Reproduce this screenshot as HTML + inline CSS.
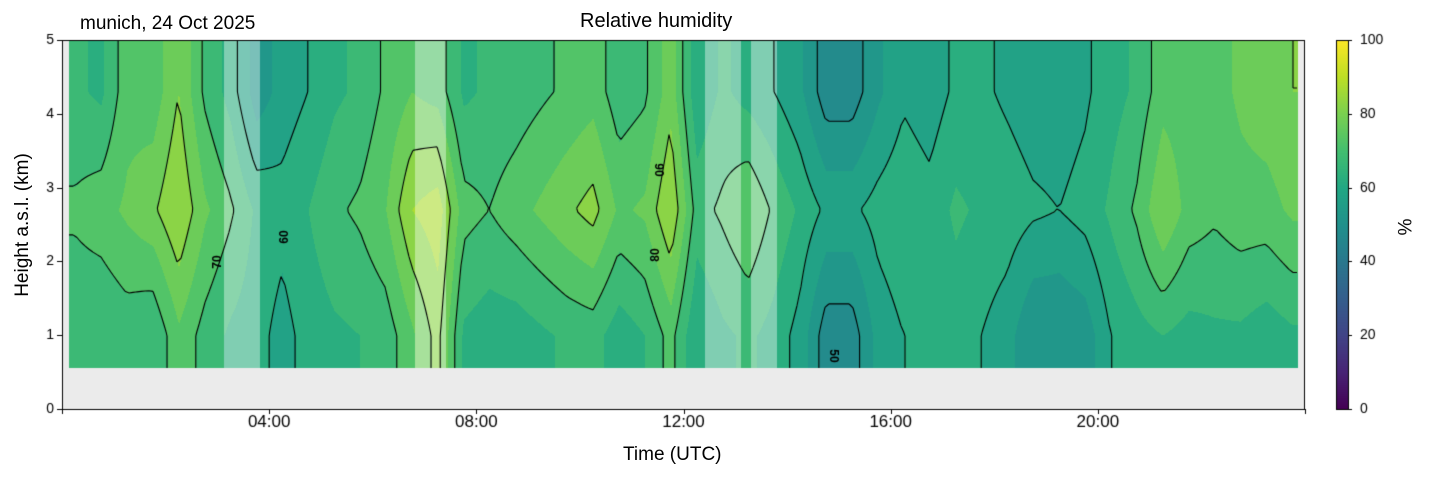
<!DOCTYPE html>
<html><head><meta charset="utf-8"><style>
body{margin:0;background:#fff;width:1429px;height:478px;overflow:hidden;font-family:"Liberation Sans","DejaVu Sans",sans-serif}
#wrap{position:relative;width:1429px;height:478px}
canvas{position:absolute;left:0;top:0}
.t{position:absolute;color:#000;white-space:nowrap}
</style></head><body>
<div id="wrap">
<canvas id="cv" width="1429" height="478"></canvas>
<div class="t" style="left:80px;top:13px;font-size:19px">munich, 24 Oct 2025</div>
<div class="t" style="left:580px;top:10px;font-size:20px">Relative humidity</div>
<div class="t" style="left:623px;top:444px;font-size:19px">Time (UTC)</div>
<div class="t" style="left:-62px;top:214px;font-size:19px;transform:rotate(-90deg);width:170px;text-align:center">Height a.s.l. (km)</div>
<div class="t" style="left:1398px;top:216px;font-size:19px;transform:rotate(-90deg)">%</div>
</div>
<script>
// half-hour columns, values in % RH
const hours=[];for(let i=0;i<48;i++)hours.push(i*0.5+0.25);
const lowRH=[66,65,67,65,74,68,64,62,58,62,64,65,67,74,82,64,62,62,64,66,67,62,65,72,60,64,66,63,58,47,47,57,60,60,62,60,57,50,50,52,60,63,65,63,64,64,62,64];
const midRH=[71,73,76,79,85,76,71,64,62,65,69,71,75,85,88,72,70,73,76,79,82,74,76,85,68,71,75,69,64,59,59,62,64,62,66,64,63,61,60,62,66,71,80,73,71,73,73,76];
const highRH=[66,64,73,72,80,69,63,52,57,60,64,66,71,75,73,64,66,67,69,71,73,67,69,78,61,66,63,60,56,47,47,54,59,57,61,61,59,57,57,59,63,66,73,72,73,76,78,80];
const rowHeights=[1.0,2.7,4.3];
const gapIntervals=[[3.12,3.82],[6.8,7.4],[12.4,13.1],[13.3,13.8]];
const xTicks=[4,8,12,16,20], xTickLabels=['04:00','08:00','12:00','16:00','20:00'];
const yTicks=[0,1,2,3,4,5];
const cbTicks=[0,20,40,60,80,100];
const contourLevels=[50,60,70,80,90];

const X0=62,X1=1305,Y0=409,Y1=40;
const xs=h=>X0+h/24*(X1-X0);
const ys=k=>Y0-k/5*(Y0-Y1);
const stops=[[68,1,84],[72,36,117],[65,68,135],[53,95,141],[42,120,142],[33,145,140],[34,168,132],[68,191,112],[122,209,81],[189,223,38],[253,231,37]];
function vir(v){v=Math.max(0,Math.min(1,v))*10;const i=Math.min(9,Math.floor(v)),f=v-i;const a=stops[i],b=stops[i+1];return [a[0]+(b[0]-a[0])*f,a[1]+(b[1]-a[1])*f,a[2]+(b[2]-a[2])*f];}
function colAt(arr,h){if(h<=hours[0])return arr[0];if(h>=hours[47])return arr[47];const i=Math.floor((h-0.25)/0.5),f=(h-hours[i])/0.5;return arr[i]+(arr[i+1]-arr[i])*f;}
function val(h,k){const a=colAt(lowRH,h),b=colAt(midRH,h),c=colAt(highRH,h);
 if(k<=rowHeights[0])return a;if(k<=rowHeights[1]){const f=(k-rowHeights[0])/(rowHeights[1]-rowHeights[0]);return a+(b-a)*f;}
 if(k<=rowHeights[2]){const f=(k-rowHeights[1])/(rowHeights[2]-rowHeights[1]);return b+(c-b)*f;}return c;}
const cv=document.getElementById('cv'),ctx=cv.getContext('2d');
ctx.fillStyle='#ebebeb';ctx.fillRect(X0,Y1,X1-X0,Y0-Y1);
const hs=0.13,he=23.87,ks=0.55,ke=5;
const px0=Math.round(xs(hs)),px1=Math.round(xs(he)),py0=Math.round(ys(ke)),py1=Math.round(ys(ks));
const img=ctx.getImageData(px0,py0,px1-px0,py1-py0);
for(let y=0;y<py1-py0;y++){const k=5-(y+py0-Y1)/(Y0-Y1)*5;for(let x=0;x<px1-px0;x++){const h=(x+px0-X0)/(X1-X0)*24;
 let v=val(h,k);v=Math.floor(v/5)*5+2.5;let c=vir(v/100);
 for(const g of gapIntervals){if(h>=g[0]&&h<=g[1]){c=[c[0]*0.6+255*0.4,c[1]*0.6+255*0.4,c[2]*0.6+255*0.4];}}
 const o=(y*(px1-px0)+x)*4;img.data[o]=c[0];img.data[o+1]=c[1];img.data[o+2]=c[2];img.data[o+3]=255;}}
ctx.putImageData(img,px0,py0);
ctx.strokeStyle='#000';ctx.lineWidth=1.1;
const st=4,nx=Math.floor((px1-px0)/st),ny=Math.floor((py1-py0)/st);
const G=[];for(let j=0;j<=ny;j++){G.push([]);const k=5-(py0+j*st-Y1)/(Y0-Y1)*5;for(let i=0;i<=nx;i++){G[j].push(val((px0+i*st-X0)/(X1-X0)*24,k));}}
for(const L of contourLevels){ctx.beginPath();
 for(let j=0;j<ny;j++)for(let i=0;i<nx;i++){const a=G[j][i],b=G[j][i+1],c=G[j+1][i+1],d=G[j+1][i];const pts=[];
  const e=(v1,v2,x1,y1,x2,y2)=>{if((v1<L)!==(v2<L)){const t=(L-v1)/(v2-v1);pts.push([x1+(x2-x1)*t,y1+(y2-y1)*t]);}};
  const X=px0+i*st,Y=py0+j*st;e(a,b,X,Y,X+st,Y);e(b,c,X+st,Y,X+st,Y+st);e(c,d,X+st,Y+st,X,Y+st);e(d,a,X,Y+st,X,Y);
  for(let p=0;p+1<pts.length;p+=2){ctx.moveTo(pts[p][0],pts[p][1]);ctx.lineTo(pts[p+1][0],pts[p+1][1]);}}
 ctx.stroke();}
ctx.strokeStyle='#000';ctx.lineWidth=1;ctx.strokeRect(X0+0.5,Y1+0.5,X1-X0-1,Y0-Y1);
ctx.fillStyle='#000';ctx.textAlign='center';ctx.textBaseline='top';
[0,...xTicks,24].forEach(h=>{const x=Math.round(xs(h))+0.5;ctx.beginPath();ctx.moveTo(x,Y0);ctx.lineTo(x,Y0+5);ctx.stroke();});
ctx.font='17px "Liberation Sans",sans-serif';
xTicks.forEach((h,i)=>ctx.fillText(xTickLabels[i],xs(h),414));
ctx.font='14px "Liberation Sans",sans-serif';ctx.textAlign='right';ctx.textBaseline='middle';
yTicks.forEach(k=>{const y=Math.round(ys(k))+0.5;ctx.beginPath();ctx.moveTo(X0-5,y);ctx.lineTo(X0,y);ctx.stroke();ctx.fillText(String(k),X0-8,y);});
const CX=1336,CW=12;for(let y=Y1;y<Y0;y++){const c=vir((Y0-y)/(Y0-Y1));ctx.fillStyle=`rgb(${c[0]|0},${c[1]|0},${c[2]|0})`;ctx.fillRect(CX,y,CW,1);}
ctx.strokeRect(CX+0.5,Y1+0.5,CW,Y0-Y1);ctx.fillStyle='#000';ctx.textAlign='left';
cbTicks.forEach(v=>{const y=Math.round(Y0-v/100*(Y0-Y1))+0.5;ctx.beginPath();ctx.moveTo(CX+CW,y);ctx.lineTo(CX+CW+4,y);ctx.stroke();ctx.fillText(String(v),CX+CW+12,y);});
ctx.font='bold 12px "Liberation Sans",sans-serif';
[[218,262,'70'],[285,237,'60'],[658,170,'90'],[656,255,'80'],[833,356,'50']].forEach(l=>{ctx.save();ctx.translate(l[0],l[1]);ctx.rotate(l[2]==='50'||l[2]==='90'?Math.PI/2:-Math.PI/2);ctx.textAlign='center';ctx.fillText(l[2],0,0);ctx.restore();});
</script>
</body></html>
